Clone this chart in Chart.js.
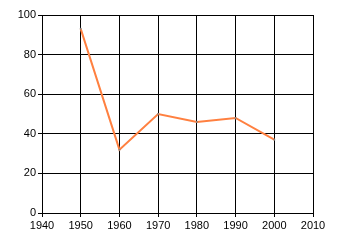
<!DOCTYPE html>
<html><head><meta charset="utf-8">
<script src="https://cdn.jsdelivr.net/npm/chart.js@4/dist/chart.umd.min.js"></script>
<style>html,body{margin:0;padding:0;background:#fff;}#wrap{width:340px;height:245px;}</style>
</head><body><div id="wrap"><canvas id="c" width="340" height="245"></canvas></div>
<script>
const years = [1950, 1960, 1970, 1980, 1990, 2000];
const values = [93, 32, 50, 46, 48, 37];
const xMin = 1940, xMax = 2010, xStep = 10;
const yMin = 0, yMax = 100, yStep = 20;

new Chart(document.getElementById('c'), {
  type: 'line',
  data: {
    datasets: [{
      data: years.map((y, i) => ({x: y, y: values[i]})),
      borderColor: 'rgb(255,128,64)',
      borderWidth: 2,
      pointRadius: 1,
      pointBackgroundColor: '#808080',
      pointBorderWidth: 0,
      tension: 0,
      fill: false
    }]
  },
  options: {
    responsive: false,
    animation: false,
    devicePixelRatio: 1,
    layout: {padding: {left: 0, top: 15, right: 27, bottom: 0}},
    plugins: {legend: {display: false}, tooltip: {enabled: false}},
    scales: {
      x: {
        type: 'linear', min: xMin, max: xMax,
        afterFit: s => { s.height = 32; },
        ticks: {stepSize: xStep, color: '#000', padding: 2, font: {family: 'Liberation Sans', size: 11}, callback: v => String(v), maxRotation: 0},
        grid: {color: '#000', lineWidth: 1, tickLength: 4},
        border: {color: '#000', width: 1}
      },
      y: {
        min: yMin, max: yMax,
        afterFit: s => { s.width = 42; },
        ticks: {stepSize: yStep, color: '#000', padding: 2, font: {family: 'Liberation Sans', size: 11}},
        grid: {color: '#000', lineWidth: 1, tickLength: 4},
        border: {color: '#000', width: 1}
      }
    }
  }
});
</script></body></html>
